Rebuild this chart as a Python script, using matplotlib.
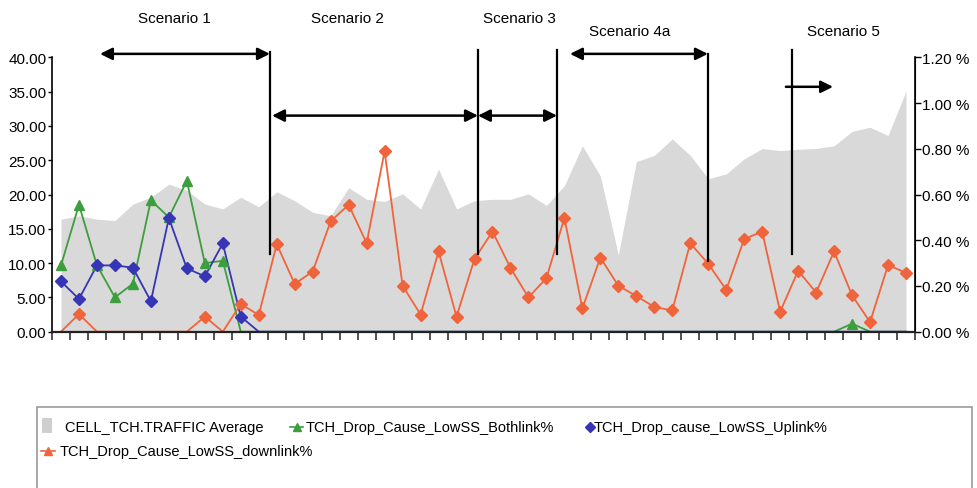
import matplotlib
matplotlib.use("Agg")
import matplotlib.pyplot as plt
from matplotlib.lines import Line2D
from matplotlib.patches import Rectangle
import numpy as np

plt.rcParams['font.family'] = ['Liberation Sans', 'DejaVu Sans']

# ---------------- data ----------------
traffic = [16.4, 16.9, 16.4, 16.2, 18.6, 19.6, 21.5, 20.6, 18.6, 17.9,
           19.6, 18.2, 20.4, 19.1, 17.4, 16.9, 21.0, 19.3, 19.0, 20.1,
           17.9, 23.7, 17.9, 19.1, 19.3, 19.3, 20.1, 18.4, 21.3, 27.1,
           22.7, 11.2, 24.8, 25.7, 28.1, 25.7, 22.3, 23.0, 25.2, 26.7,
           26.4, 26.6, 26.7, 27.1, 29.2, 29.8, 28.6, 35.1]

bothlink = [0.29, 0.555, 0.29, 0.15, 0.21, 0.575, 0.50, 0.66, 0.30, 0.31,
            0, 0, 0, 0, 0, 0, 0, 0, 0, 0,
            0, 0, 0, 0, 0, 0, 0, 0, 0, 0,
            0, 0, 0, 0, 0, 0, 0, 0, 0, 0,
            0, 0, 0, 0, 0.035, 0, 0, 0]

uplink = [0.22, 0.143, 0.29, 0.29, 0.28, 0.133, 0.497, 0.277, 0.242, 0.386,
          0.066, 0, 0, 0, 0, 0, 0, 0, 0, 0,
          0, 0, 0, 0, 0, 0, 0, 0, 0, 0,
          0, 0, 0, 0, 0, 0, 0, 0, 0, 0,
          0, 0, 0, 0, 0, 0, 0, 0]

downlink = [0, 0.077, 0, 0, 0, 0, 0, 0, 0.066, 0,
            0.121, 0.073, 0.383, 0.209, 0.263, 0.483, 0.555, 0.387, 0.789, 0.201,
            0.075, 0.351, 0.066, 0.318, 0.438, 0.279, 0.15, 0.234, 0.498, 0.102,
            0.324, 0.201, 0.156, 0.108, 0.093, 0.387, 0.297, 0.183, 0.405, 0.438,
            0.087, 0.267, 0.171, 0.351, 0.159, 0.042, 0.291, 0.258]

left_ticks = [0, 5, 10, 15, 20, 25, 30, 35, 40]
right_ticks = [0.0, 0.2, 0.4, 0.6, 0.8, 1.0, 1.2]

series_names = ["CELL_TCH.TRAFFIC Average", "TCH_Drop_Cause_LowSS_Bothlink%",
                "TCH_Drop_cause_LowSS_Uplink%", "TCH_Drop_Cause_LowSS_downlink%"]

# scenario annotations (category-index x, left-axis y)
scenario_labels = ["Scenario 1", "Scenario 2", "Scenario 3", "Scenario 4a", "Scenario 5"]
vlines = [(11.62, 11.3, 40.7), (23.19, 11.3, 41.0), (27.59, 11.3, 41.0),
          (35.98, 10.3, 40.5), (40.66, 11.3, 41.0)]
double_arrows = [(2.17, 11.62, 40.5), (11.74, 23.19, 31.5), (23.19, 27.59, 31.5),
                 (28.31, 35.98, 40.5)]
single_arrows = [(40.32, 42.94, 35.7)]

# ---------------- figure ----------------
W, H = 977, 489
fig = plt.figure(figsize=(W / 100, H / 100), dpi=100)
ax = fig.add_axes([52 / W, 1 - 332.7 / H, (915 - 52) / W, (332.7 - 58.3) / H])
x = np.arange(len(traffic))

c_grey = '#d9d9d9'
c_green = '#3c9e3c'
c_blue = '#3535b5'
c_orange = '#f0643c'

ax.fill_between(x, traffic, 0, color=c_grey, lw=0, zorder=1)
ax.set_xlim(-0.5, len(traffic) - 0.5)
ax.set_ylim(0, 40)
ax.set_yticks(left_ticks)
ax.set_yticklabels([f"{v:.2f}" for v in left_ticks], fontsize=11)
ax.set_xticks(np.arange(len(traffic) + 1) - 0.5)
ax.set_xticklabels([])
ax.tick_params(axis='x', direction='out', length=6, width=1.2, color='#333333')
ax.tick_params(axis='y', direction='out', length=3, width=1, pad=1)
ax.spines['top'].set_visible(False)
ax.spines['left'].set_linewidth(1.2)
ax.spines['bottom'].set_linewidth(1.2)

ax2 = ax.twinx()
ax2.set_ylim(0, 1.2)
ax2.set_yticks(right_ticks)
ax2.set_yticklabels([f"{v:.2f} %" for v in right_ticks], fontsize=11)
ax2.tick_params(axis='y', direction='out', length=4, width=1, pad=1)
ax2.spines['top'].set_visible(False)
ax2.spines['left'].set_visible(False)
ax2.spines['bottom'].set_linewidth(1.6)
ax2.spines['bottom'].set_color('#222222')
ax2.spines['bottom'].set_zorder(5)
ax2.spines['right'].set_linewidth(1.2)


def draw(vals, color, marker, ms):
    vals = np.array(vals)
    ax2.plot(x, vals, color=color, lw=1.3, zorder=3)
    nz = vals > 0
    ax2.plot(x[nz], vals[nz], ls='none', marker=marker, ms=ms, color=color,
             mec=color, zorder=4)


draw(bothlink, c_green, '^', 7)
draw(uplink, c_blue, 'D', 6)
draw(downlink, c_orange, 'D', 6)

# scenario lines & arrows
T = ax.transData
for xv, y0, y1 in vlines:
    ax2.plot([xv, xv], [y0, y1], color='black', lw=1.6, transform=T,
             clip_on=False, zorder=6)
for x0, x1, yv in double_arrows:
    ax2.annotate('', xy=(x1, yv), xytext=(x0, yv), xycoords=T, textcoords=T,
                 annotation_clip=False,
                 arrowprops=dict(arrowstyle='<|-|>', color='black', lw=1.8,
                                 mutation_scale=18, shrinkA=0, shrinkB=0),
                 zorder=7)
for x0, x1, yv in single_arrows:
    ax2.annotate('', xy=(x1, yv), xytext=(x0, yv), xycoords=T, textcoords=T,
                 annotation_clip=False,
                 arrowprops=dict(arrowstyle='-|>', color='black', lw=1.8,
                                 mutation_scale=18, shrinkA=0, shrinkB=0),
                 zorder=7)

label_pos = [(174, 19), (347, 19), (519, 19), (630, 32), (843, 32)]
for lab, (px, py) in zip(scenario_labels, label_pos):
    fig.text(px / W, 1 - py / H, lab, ha='center', va='center', fontsize=11)

# ---------------- legend (drawn manually as in reference) ----------------
fig.add_artist(Rectangle((37 / W, -0.05), (972 - 37) / W, (1 - 408 / H) + 0.05,
                         transform=fig.transFigure, fill=False,
                         edgecolor='#9a9a9a', lw=1.2))
fig.add_artist(Rectangle((42 / W, 1 - 434 / H), 10 / W, 15 / H,
                         transform=fig.transFigure, color='#cfcfcf', lw=0))
fy1 = 1 - 428 / H
fy2 = 1 - 452 / H
fig.text(65 / W, fy1, series_names[0], ha='left', va='center', fontsize=10.5)
fig.add_artist(Line2D([290 / W, 303 / W], [fy1, fy1], color=c_green, lw=1.2,
                      transform=fig.transFigure))
fig.add_artist(Line2D([297 / W], [fy1], color=c_green, marker='^', ms=6,
                      transform=fig.transFigure))
fig.text(306 / W, fy1, series_names[1], ha='left', va='center', fontsize=10.5)
fig.add_artist(Line2D([590 / W], [fy1], color=c_blue, marker='D', ms=5,
                      transform=fig.transFigure))
fig.text(594 / W, fy1, series_names[2], ha='left', va='center', fontsize=10.5)
fig.add_artist(Line2D([41 / W, 55 / W], [fy2, fy2], color=c_orange, lw=1.2,
                      transform=fig.transFigure))
fig.add_artist(Line2D([48 / W], [fy2], color=c_orange, marker='^', ms=6,
                      transform=fig.transFigure))
fig.text(60 / W, fy2, series_names[3], ha='left', va='center', fontsize=10.5)

fig.savefig('out.png', dpi=100)
